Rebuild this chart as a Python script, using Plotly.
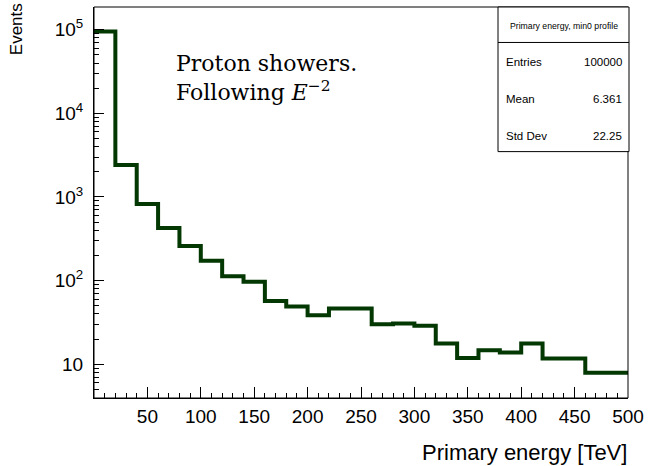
import plotly.graph_objects as go

# ---- data ----
bin_edges = [i * 20 for i in range(26)]  # 0..500 TeV
counts = [95300, 2410, 825, 425, 259, 173, 113, 97, 57, 49, 38.6, 46.5, 46.5,
          30, 30.7, 28.8, 17.7, 11.9, 14.7, 13.8, 17.7, 11.7, 11.7, 7.9, 7.9]
x_tick_vals = [50, 100, 150, 200, 250, 300, 350, 400, 450, 500]
y_tick_vals = [10, 100, 1000, 10000, 100000]
y_tick_text = ["10", "10<sup>2</sup>", "10<sup>3</sup>", "10<sup>4</sup>", "10<sup>5</sup>"]
stats_title = "Primary energy, min0 profile"
stats_names = ["Entries", "Mean", "Std Dev"]
stats_values = ["100000", "6.361", "22.25"]

# ---- geometry ----
W, H = 649, 466
L, R, T, B = 94, 628, 7.3, 397.7
PW, PH = R - L, B - T


def px(x):
    return (x - L) / PW


def py(y):
    return (B - y) / PH


minor_y = []
for k in range(0, 6):
    for m in range(2, 10):
        minor_y.append(m * 10 ** k)

line_color = "#033803"
fig = go.Figure()
fig.add_trace(go.Scatter(
    x=bin_edges,
    y=counts + [counts[-1]],
    mode="lines",
    line=dict(shape="hv", color=line_color, width=4),
    hoverinfo="skip",
    showlegend=False,
))

font = "Liberation Sans, Arial, Helvetica, sans-serif"
fig.update_layout(
    width=W, height=H,
    margin=dict(l=L, r=W - R, t=T, b=H - B, autoexpand=False),
    paper_bgcolor="white", plot_bgcolor="white",
    font=dict(family=font, color="black"),
    xaxis=dict(
        range=[0, 500], showgrid=False, zeroline=False, automargin=False,
        showline=True, linecolor="black", linewidth=1,
        tickmode="array", tickvals=x_tick_vals,
        ticks="inside", ticklen=11, tickcolor="black", tickwidth=1,
        tickfont=dict(size=19, family=font, color="black"),
        ticklabelstandoff=1,
        minor=dict(tickmode="linear", tick0=0, dtick=10, ticks="inside",
                   ticklen=5, tickcolor="black", tickwidth=1, showgrid=False),
    ),
    yaxis=dict(
        type="log", range=[0.596, 5.272], showgrid=False, zeroline=False, automargin=False,
        showline=True, linecolor="black", linewidth=1,
        tickmode="array", tickvals=y_tick_vals, ticktext=y_tick_text,
        ticks="inside", ticklen=10, tickcolor="black", tickwidth=1,
        tickfont=dict(size=19, family=font, color="black"),
        ticklabelstandoff=6,
        minor=dict(tickmode="array", tickvals=minor_y, ticks="inside",
                   ticklen=5, tickcolor="black", tickwidth=1, showgrid=False),
    ),
)

# frame
fig.add_shape(type="rect", xref="paper", yref="paper", x0=0, x1=1, y0=0, y1=1,
              line=dict(color="black", width=1), fillcolor="rgba(0,0,0,0)", layer="above")

# stats box
bx0, bx1, by0, by1 = 498, 629, 7.3, 151.7
fig.add_shape(type="rect", xref="paper", yref="paper",
              x0=px(bx0), x1=px(bx1), y0=py(by1), y1=py(by0),
              line=dict(color="black", width=1), fillcolor="white", layer="above")
fig.add_shape(type="line", xref="paper", yref="paper",
              x0=px(bx0), x1=px(bx1), y0=py(42.7), y1=py(42.7),
              line=dict(color="black", width=1), layer="above")

ann = []
ann.append(dict(x=px((bx0 + bx1) / 2), y=py(26.5), text=stats_title,
                xanchor="center", yanchor="middle",
                font=dict(size=8.7, family=font, color="black")))
row_y = [62, 99.5, 136.5]
for name, val, yy in zip(stats_names, stats_values, row_y):
    ann.append(dict(x=px(503.5), y=py(yy), text=name, xanchor="left", yanchor="middle",
                    font=dict(size=11.5, family=font, color="black")))
    ann.append(dict(x=px(624), y=py(yy), text=val, xanchor="right", yanchor="middle",
                    font=dict(size=11.5, family=font, color="black")))

# axis titles
ann.append(dict(x=px(16.5), y=py(2), text="Events", textangle=-90,
                xanchor="center", yanchor="top",
                font=dict(size=17, family=font, color="black")))
ann.append(dict(x=px(629), y=py(452), text="Primary energy [TeV]",
                xanchor="right", yanchor="middle",
                font=dict(size=22, family=font, color="black")))

# plot text
serif = "DejaVu Serif, Liberation Serif, serif"
ann.append(dict(x=px(174), y=py(64), text="Proton showers.", xanchor="left", yanchor="middle",
                font=dict(size=22, family=serif, color="black")))
ann.append(dict(x=px(174), y=py(91), text="Following <i>E</i><sup>−2</sup>",
                xanchor="left", yanchor="middle",
                font=dict(size=22, family=serif, color="black")))

for a in ann:
    a.update(xref="paper", yref="paper", showarrow=False)
fig.update_layout(annotations=ann)

fig.write_html("out.html")
